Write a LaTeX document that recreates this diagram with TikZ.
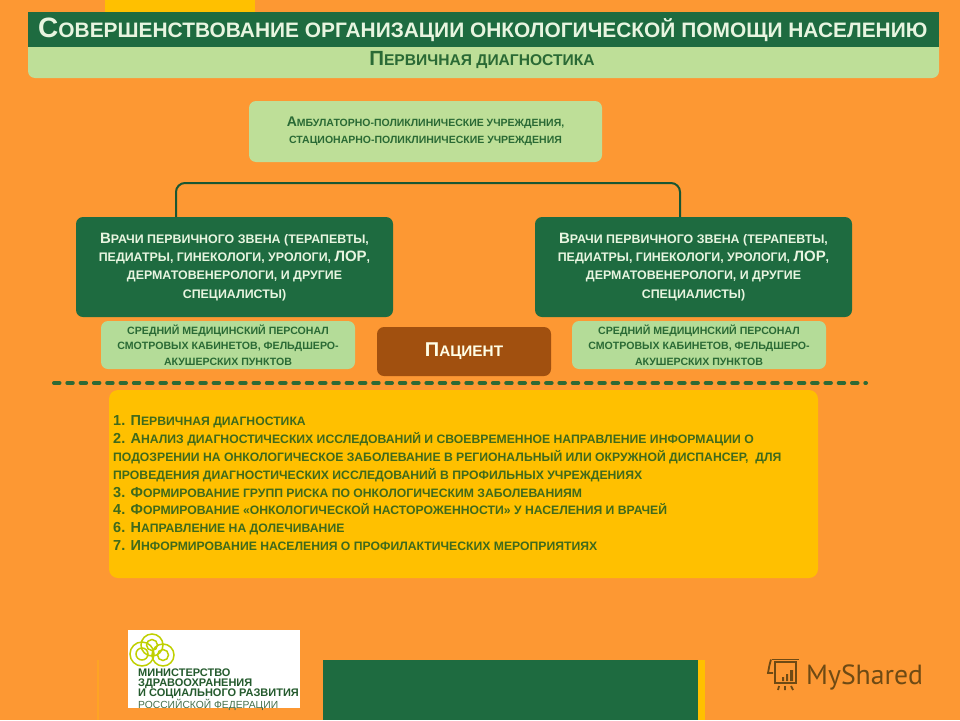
\documentclass[tikz,border=0pt]{standalone}
\usepackage{fontspec}
\setmainfont{Liberation Sans}
\newfontfamily\ptsans{PT Sans}
\usetikzlibrary{calc}
\definecolor{bgor}{HTML}{FD9833}
\definecolor{dkgreen}{HTML}{1E6B40}
\definecolor{pale}{HTML}{BEDF98}
\definecolor{palemid}{HTML}{B4DC98}
\definecolor{txgreen}{HTML}{2A6A35}
\definecolor{yell}{HTML}{FFC000}
\definecolor{brownp}{HTML}{A1500F}
\definecolor{dashcol}{HTML}{2F6A35}
\definecolor{mint}{HTML}{E8F5E0}
\definecolor{yelltx}{HTML}{3F6A1C}
\definecolor{wm}{HTML}{6E4A14}
\newcommand{\fs}[2]{\fontsize{#1}{#2}\selectfont}
\newcommand{\bg}[2]{{\fs{#1}{#1}#2}}
\tikzset{
  x=1pt,y=-1pt,
  panel/.style={inner sep=0pt,outer sep=0pt,align=center,anchor=north west,rounded corners=7pt,font=\bfseries},
  docbox/.style={panel,fill=dkgreen,text=mint,minimum width=317pt,minimum height=100pt,font=\bfseries\fs{12.4}{18.2}},
  midbox/.style={panel,fill=palemid,text=txgreen,minimum width=254pt,minimum height=48pt,font=\bfseries\fs{10.6}{15.7}},
  link/.style={draw=dkgreen!80!black,line width=2pt,rounded corners=9pt},
}
\begin{document}
\begin{tikzpicture}
\useasboundingbox (0,0) rectangle (960,720);
\fill[bgor] (0,0) rectangle (960,720);
\fill[yell] (105,0) rectangle (255,12);
\fill[bgor!70!yell] (97,660) rectangle (98.5,720);
% header
\fill[pale,rounded corners=7pt] (28,30) rectangle (939,78);
\fill[dkgreen] (28,12) rectangle (939,47);
\node[anchor=base west,inner sep=0pt,text=mint,font=\bfseries\fs{20.9}{21}] (title) at (38,37) {\bg{28}{С}ОВЕРШЕНСТВОВАНИЕ ОРГАНИЗАЦИИ ОНКОЛОГИЧЕСКОЙ ПОМОЩИ НАСЕЛЕНИЮ};
\node[anchor=base,inner sep=0pt,text=txgreen,font=\bfseries\fs{15.6}{16}] (sub) at (482,65) {\bg{20.5}{П}ЕРВИЧНАЯ ДИАГНОСТИКА};
% top box
\node[panel,fill=pale,text=txgreen,minimum width=353pt,minimum height=61pt,font=\bfseries\fs{10.5}{17}] (top) at (249,101) {\bg{14}{А}МБУЛАТОРНО-ПОЛИКЛИНИЧЕСКИЕ УЧРЕЖДЕНИЯ,\\СТАЦИОНАРНО-ПОЛИКЛИНИЧЕСКИЕ УЧРЕЖДЕНИЯ};
% doctors
\node[docbox] (vl) at (76,217) {\bg{15}{В}РАЧИ ПЕРВИЧНОГО ЗВЕНА (ТЕРАПЕВТЫ,\\ПЕДИАТРЫ, ГИНЕКОЛОГИ, УРОЛОГИ, \bg{15}{ЛОР},\\ДЕРМАТОВЕНЕРОЛОГИ, И ДРУГИЕ\\СПЕЦИАЛИСТЫ)};
\node[docbox] (vr) at (535,217) {\bg{15}{В}РАЧИ ПЕРВИЧНОГО ЗВЕНА (ТЕРАПЕВТЫ,\\ПЕДИАТРЫ, ГИНЕКОЛОГИ, УРОЛОГИ, \bg{15}{ЛОР},\\ДЕРМАТОВЕНЕРОЛОГИ, И ДРУГИЕ\\СПЕЦИАЛИСТЫ)};
\draw[link] ([xshift=-58.5pt]vl.north) -- ++(0,-34) -| ([xshift=-13.5pt]vr.north);
% staff
\node[midbox] (ml) at (101,321) {СРЕДНИЙ МЕДИЦИНСКИЙ ПЕРСОНАЛ\\СМОТРОВЫХ КАБИНЕТОВ, ФЕЛЬДШЕРО-\\АКУШЕРСКИХ ПУНКТОВ};
\node[midbox] (mr) at (572,321) {СРЕДНИЙ МЕДИЦИНСКИЙ ПЕРСОНАЛ\\СМОТРОВЫХ КАБИНЕТОВ, ФЕЛЬДШЕРО-\\АКУШЕРСКИХ ПУНКТОВ};
\node[panel,fill=brownp,text=white!90!yellow,minimum width=174pt,minimum height=49pt,font=\bfseries\fs{15.3}{15}] (pat) at (377,327) {\bg{20}{П}АЦИЕНТ};
% dashed
\coordinate (da) at (54,383);
\coordinate (db) at (866,383);
\draw[dashcol,line width=4pt,line cap=round,dash pattern=on 5.5pt off 7.8pt] (da) -- (db);
% list
\fill[yell,rounded corners=9pt] (109,390) rectangle (818,578);
\node[anchor=north west,inner sep=0pt,align=left,text=yelltx,font=\bfseries\fs{12.2}{17.86}] (list) at (113,415.5) {%
\bg{14.5}{1. П}ЕРВИЧНАЯ ДИАГНОСТИКА\\
\bg{14.5}{2. А}НАЛИЗ ДИАГНОСТИЧЕСКИХ ИССЛЕДОВАНИЙ И СВОЕВРЕМЕННОЕ НАПРАВЛЕНИЕ ИНФОРМАЦИИ О\\
ПОДОЗРЕНИИ НА ОНКОЛОГИЧЕСКОЕ ЗАБОЛЕВАНИЕ В РЕГИОНАЛЬНЫЙ ИЛИ ОКРУЖНОЙ ДИСПАНСЕР,\ \ ДЛЯ\\
ПРОВЕДЕНИЯ ДИАГНОСТИЧЕСКИХ ИССЛЕДОВАНИЙ В ПРОФИЛЬНЫХ УЧРЕЖДЕНИЯХ\\
\bg{14.5}{3. Ф}ОРМИРОВАНИЕ ГРУПП РИСКА ПО ОНКОЛОГИЧЕСКИМ ЗАБОЛЕВАНИЯМ\\
\bg{14.5}{4. Ф}ОРМИРОВАНИЕ «ОНКОЛОГИЧЕСКОЙ НАСТОРОЖЕННОСТИ» У НАСЕЛЕНИЯ И ВРАЧЕЙ\\
\bg{14.5}{6. Н}АПРАВЛЕНИЕ НА ДОЛЕЧИВАНИЕ\\
\bg{14.5}{7. И}НФОРМИРОВАНИЕ НАСЕЛЕНИЯ О ПРОФИЛАКТИЧЕСКИХ МЕРОПРИЯТИЯХ};
% logo
\fill[white] (128,630) rectangle (300,708);
\begin{scope}[draw=yell!75!green,line width=1.5pt]
\draw (152,645) circle (11);
\draw (142,654) circle (12);
\draw (163,655) circle (11);
\draw (152,645) circle (5.5);
\draw (142,654) circle (6);
\draw (163,655) circle (5.5);
\end{scope}
\node[anchor=north west,inner sep=0pt,align=left,text=txgreen!85!black,font=\bfseries\fs{11}{10}] (logotx) at (138,668.5) {МИНИСТЕРСТВО\\ЗДРАВООХРАНЕНИЯ\\И СОЦИАЛЬНОГО РАЗВИТИЯ};
\node[anchor=north west,inner sep=0pt,text=txgreen!70!gray,font=\fs{10.3}{10}] (logoru) at (138,698.5) {РОССИЙСКОЙ ФЕДЕРАЦИИ};
% bottom
\fill[dkgreen] (323,660) rectangle (698,720);
\fill[yell] (698,660) rectangle (705,720);
% watermark
\node[anchor=base west,inner sep=0pt,text=wm,font=\ptsans\fs{27.7}{28}] (ms) at (806,684) {MyShared};
\begin{scope}[draw=wm,line width=1.8pt]
\draw (772,659.5) -- (799,659.5);
\draw (771,659.5) .. controls (769,666) and (769,668) .. (768,673) -- (773,673);
\draw (775,662) rectangle (796,683);
\fill[wm] (782,677) rectangle (784,681) (786,674) rectangle (788,681) (790,670) rectangle (793,681);
\draw (779,686) -- (778,690) (785,686) -- (785,690) (791,686) -- (793,690);
\end{scope}
\end{tikzpicture}
\end{document}
